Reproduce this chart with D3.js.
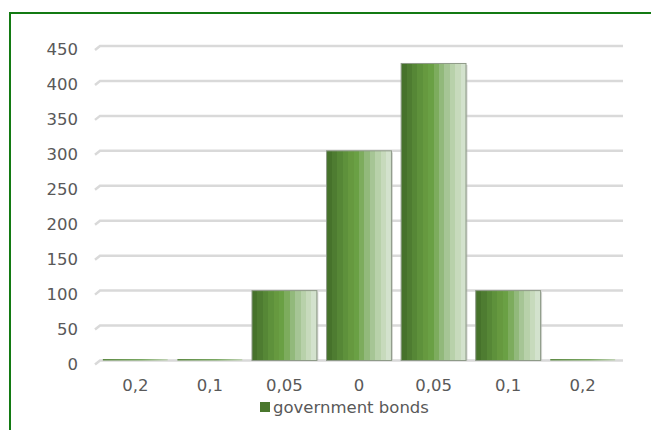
<!DOCTYPE html>
<html>
<head>
<meta charset="utf-8">
<script src="https://cdn.jsdelivr.net/npm/d3@7"></script>
<style>
html,body{margin:0;padding:0;background:#fff;}
svg{display:block;}
text{font-family:"DejaVu Sans",Verdana,sans-serif;fill:#595959;}
</style>
</head>
<body>
<svg id="chart" width="651" height="430"></svg>
<script>
const categories = ["0,2","0,1","0,05","0","0,05","0,1","0,2"];
const values = [2, 2, 100, 300, 425, 100, 2];
const yTicks = [0,50,100,150,200,250,300,350,400,450];
const seriesName = "government bonds";

const svg = d3.select("#chart");
const W = 651, H = 430;
const FS = "16.5px";

// frame
svg.append("rect").attr("x",10).attr("y",13).attr("width",W+10).attr("height",H+10)
  .attr("fill","none").attr("stroke","#137a13").attr("stroke-width",2);

const x = d3.scaleBand().domain(d3.range(categories.length)).range([98,620])
  .paddingInner(0.13).paddingOuter(0.065);
const y = d3.scaleLinear().domain([0,450]).range([360.5,46]);

// gradient
const defs = svg.append("defs");
const g = defs.append("linearGradient").attr("id","barGrad").attr("x1","0%").attr("x2","100%").attr("y1","0%").attr("y2","0%");
const stripes = ["#46722b","#4e7c31","#568736","#5e913b","#66993f","#6aa044","#7dac5d","#92b97b","#a6c595","#b8d1aa","#c7dabc","#d3e2cd"];
stripes.forEach((c,i)=>{
  g.append("stop").attr("offset",(i/stripes.length*100)+"%").attr("stop-color",c);
  g.append("stop").attr("offset",((i+1)/stripes.length*100)+"%").attr("stop-color",c);
});
const tg = defs.append("linearGradient").attr("id","thinGrad").attr("x1","0%").attr("x2","100%");
tg.append("stop").attr("offset","0%").attr("stop-color","#5e8a45");
tg.append("stop").attr("offset","60%").attr("stop-color","#7aa862");
tg.append("stop").attr("offset","100%").attr("stop-color","#c0d2b4");

// gridlines with 3D side
const grid = svg.append("g");
yTicks.forEach(t=>{
  const yy = y(t);
  grid.append("path")
    .attr("d",`M95,${yy+4} L100,${yy} L623,${yy}`)
    .attr("fill","none").attr("stroke","#d9d9d9").attr("stroke-width",2.5);
});

// y labels
const yAxis = d3.axisLeft(y).tickValues(yTicks).tickSize(0).tickPadding(0);
const ya = svg.append("g").attr("transform","translate(78,3.5)").call(yAxis);
ya.select(".domain").remove();
ya.selectAll("text").style("font-size",FS).attr("fill","#595959").style("font-family","'DejaVu Sans',Verdana,sans-serif");

// bars
const bars = svg.append("g");
values.forEach((v,i)=>{
  const x0 = x(i), bw = x.bandwidth();
  const top = y(v), h = y(0)-y(v);
  if (h < 4) {
    bars.append("rect").attr("x",x0).attr("y",y(0)-1.5).attr("width",bw).attr("height",1.5)
      .attr("fill","url(#thinGrad)");
  } else {
    bars.append("rect").attr("x",x0+1.5).attr("y",top+1.5).attr("width",bw).attr("height",h-1.5)
      .attr("fill","#b8bdb4").attr("opacity",0.6);
    bars.append("rect").attr("x",x0).attr("y",top).attr("width",bw).attr("height",h)
      .attr("fill","url(#barGrad)").attr("stroke","#8e9a88").attr("stroke-width",1);
  }
});

// x labels
const xAxis = d3.axisBottom(x).tickFormat(i=>categories[i]).tickSize(0).tickPadding(0);
const xa = svg.append("g").attr("transform","translate(0,379)").call(xAxis);
xa.select(".domain").remove();
xa.selectAll("text").style("font-size",FS).attr("fill","#595959").style("font-family","'DejaVu Sans',Verdana,sans-serif");

// legend
const lg = svg.append("g");
lg.append("rect").attr("x",260).attr("y",402).attr("width",10).attr("height",10).attr("fill","#4a772d");
lg.append("text").attr("x",273).attr("y",407).attr("dy","0.35em").style("font-size",FS).text(seriesName);
</script>
</body>
</html>
